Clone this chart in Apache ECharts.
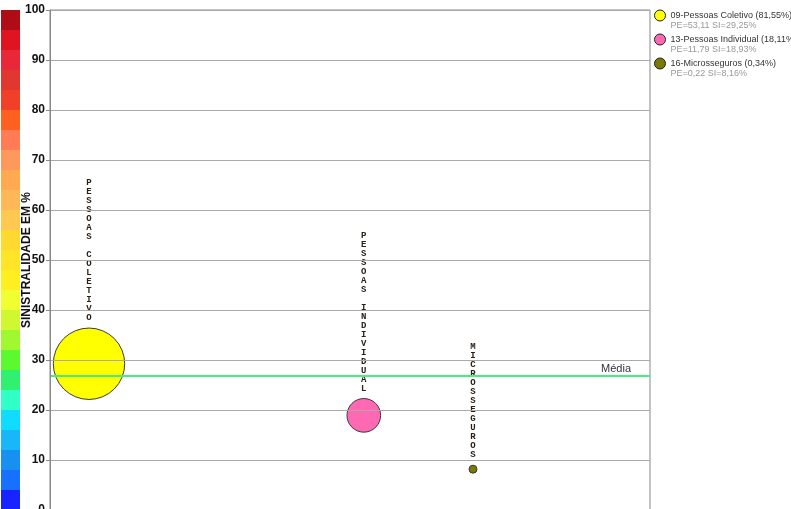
<!DOCTYPE html>
<html><head><meta charset="utf-8">
<script src="https://cdn.jsdelivr.net/npm/echarts@6/dist/echarts.min.js"></script>
<style>html,body{margin:0;padding:0;background:#fff}#c{width:791px;height:509px}</style>
</head><body><div id="c"></div>
<script>
// Data
const seriesNames = ['09-Pessoas Coletivo', '13-Pessoas Individual', '16-Microsseguros'];
const bubbleLabels = ['PESSOAS COLETIVO', 'PESSOAS INDIVIDUAL', 'MICROSSEGUROS'];
const sharePct = ['81,55%', '18,11%', '0,34%'];
const peValues = [53.11, 11.79, 0.22];
const siValues = [29.25, 18.93, 8.16];
const xPositions = [6.5, 52.3, 70.5];
const bubbleColors = ['#ffff00', '#ff69b4', '#7a7a00'];
const mediaValue = 26.9;
const yTicks = [0, 10, 20, 30, 40, 50, 60, 70, 80, 90, 100];
// colour scale, from 0-4 (bottom) to 96-100 (top)
const scaleColors = ['#1824ff', '#1870ff', '#1890f0', '#18b8f8', '#10dcff', '#30ffc8', '#30f070', '#5cf830',
  '#a0f830', '#d0f830', '#f0ff30', '#ffee20', '#ffe428', '#ffd830', '#ffc850', '#ffb858', '#ffaa50', '#ff985c',
  '#ff7c54', '#ff6020', '#f04028', '#e03830', '#e82838', '#e01420', '#b00c18'];

const fmt = v => v.toFixed(2).replace('.', ',');
const chart = echarts.init(document.getElementById('c'), null, {renderer: 'canvas'});

const series = seriesNames.map((n, i) => ({
  name: n,
  type: 'scatter',
  xAxisIndex: 0, yAxisIndex: 0,
  data: [[xPositions[i], siValues[i], peValues[i], bubbleLabels[i]]],
  symbolSize: v => Math.max(8, 9.8 * Math.sqrt(v[2])),
  itemStyle: {color: bubbleColors[i], borderColor: '#3a3a3a', borderWidth: 1, opacity: 1},
  label: {
    show: true, position: 'top', distance: 5,
    formatter: p => p.value[3].split('').join('\n'),
    fontFamily: 'Liberation Mono', fontWeight: 'bold', fontSize: 9, lineHeight: 9,
    color: '#2a2018', align: 'center'
  },
  emphasis: {disabled: true},
  z: 3
}));

series[0].markLine = {
  silent: true, symbol: ['none', 'none'],
  lineStyle: {color: '#44ee80', width: 2, type: 'solid'},
  label: {show: true, position: 'insideEndTop', formatter: 'Média', color: '#334', fontSize: 11,
    fontFamily: 'Liberation Sans', distance: [19, 1]},
  data: [{yAxis: mediaValue}],
  z: 5
};

series.push({
  type: 'bar', xAxisIndex: 1, yAxisIndex: 1,
  data: scaleColors.map(c => ({value: 1, itemStyle: {color: c}})),
  barWidth: '100%', barCategoryGap: 0, silent: true, z: 1
});

chart.setOption({
  animation: false,
  grid: [
    {left: 50, right: 141, top: 10, bottom: -1, show: true, borderColor: '#888', borderWidth: 1,
      backgroundColor: 'transparent', outerBoundsMode: 'none', containLabel: false},
    {left: 1, width: 19, top: 10, bottom: -1, outerBoundsMode: 'none', containLabel: false}
  ],
  xAxis: [
    {type: 'value', min: 0, max: 100, show: false, gridIndex: 0},
    {type: 'value', min: 0, max: 1, show: false, gridIndex: 1}
  ],
  yAxis: [
    {type: 'value', gridIndex: 0, min: yTicks[0], max: yTicks[yTicks.length - 1], interval: 10,
      name: 'SINISTRALIDADE EM %', nameLocation: 'middle', nameGap: 17, nameRotate: 90, nameMoveOverlap: false,
      nameTextStyle: {fontFamily: 'Liberation Sans', fontWeight: 'bold', fontSize: 12, color: '#111'},
      axisLine: {show: true, lineStyle: {color: '#888'}},
      axisTick: {show: true, length: 4, lineStyle: {color: '#888'}},
      axisLabel: {margin: 5, fontFamily: 'Liberation Sans', fontWeight: 'bold', fontSize: 12, color: '#111'},
      splitLine: {show: true, lineStyle: {color: '#aaa', width: 1}},
      z: 10
    },
    {type: 'category', gridIndex: 1, data: scaleColors.map((c, i) => i), show: false}
  ],
  legend: {
    data: seriesNames,
    orient: 'vertical', left: 654, top: 1, padding: 0,
    itemWidth: 11, itemHeight: 11, itemGap: -5, icon: 'circle',
    itemStyle: {borderColor: '#222', borderWidth: 1},
    selectedMode: false,
    formatter: name => {
      const i = seriesNames.indexOf(name);
      return '{e| }\n{n|' + name + ' (' + sharePct[i] + ')}\n{p|PE=' + fmt(peValues[i]) + ' SI=' + fmt(siValues[i]) + '%}';
    },
    textStyle: {
      rich: {
        e: {fontSize: 9, lineHeight: 10, fontFamily: 'Liberation Sans'},
        n: {fontSize: 9, lineHeight: 10, color: '#333', fontFamily: 'Liberation Sans'},
        p: {fontSize: 9, lineHeight: 10, color: '#999', fontFamily: 'Liberation Sans'}
      }
    }
  },
  series: series
});
</script></body></html>
